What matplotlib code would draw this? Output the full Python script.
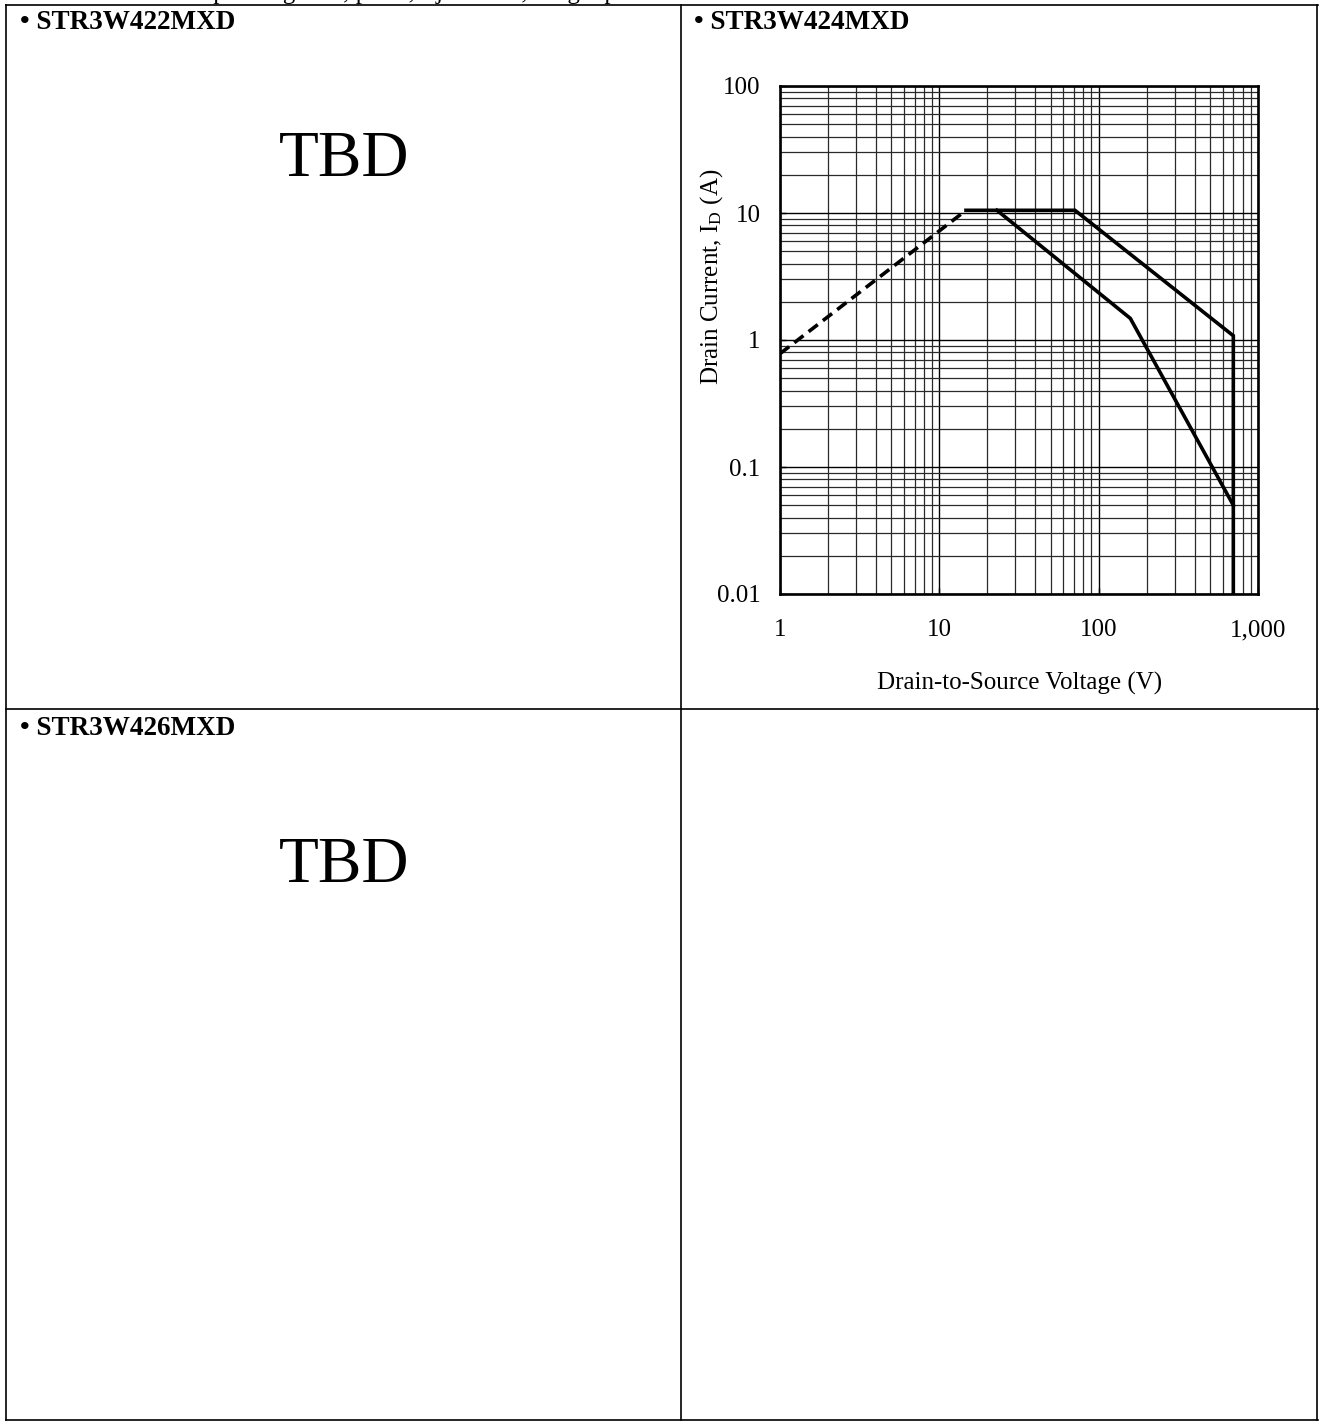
import matplotlib
matplotlib.use('Agg')
import matplotlib.pyplot as plt
from matplotlib.lines import Line2D
from matplotlib.ticker import FixedLocator, FixedFormatter, LogLocator, NullFormatter

plt.rcParams['font.family'] = ['Liberation Serif', 'DejaVu Serif']
plt.rcParams['mathtext.fontset'] = 'stix'

# SOA curves for STR3W424MXD
rds_v = [1, 14.7]              # R_DS(on) limited, dashed
rds_i = [0.78, 10.5]
pulse1_v = [14.7, 71, 700, 700]   # short pulse
pulse1_i = [10.5, 10.5, 1.08, 0.01]
pulse2_v = [23, 158, 700]      # longer pulse
pulse2_i = [10.5, 1.48, 0.05]

x_ticks = [1, 10, 100, 1000]
x_labels = ['1', '10', '100', '1,000']
y_ticks = [0.01, 0.1, 1, 10, 100]
y_labels = ['0.01', '0.1', '1', '10', '100']

panel_titles = ['• STR3W422MXD', '• STR3W424MXD', '• STR3W426MXD']

W, H = 1319, 1423
fig = plt.figure(figsize=(W / 100, H / 100), dpi=100)
fig.patch.set_facecolor('white')


def px(x, y):
    return x / W, 1 - y / H


# table lines
def hline(y, x0, x1):
    fig.add_artist(Line2D([x0 / W, x1 / W], [1 - y / H, 1 - y / H], color='black', lw=1.2))


def vline(x, y0, y1):
    fig.add_artist(Line2D([x / W, x / W], [1 - y0 / H, 1 - y1 / H], color='black', lw=1.2))


hline(5, 6, 1318)
hline(709, 6, 1318)
hline(1420, 6, 1318)
vline(6, 5, 1420)
vline(681, 5, 1420)
vline(1317, 5, 1420)

# line of text above the table, cut off by the page edge as in the source
fig.text(*px(150, -1), 'Safe operating area, pulse, Tj = 25°C, Single pulse',
         fontsize=18, va='baseline', ha='left')

# panel headers
fig.text(*px(20, 29), panel_titles[0], fontsize=19.5, fontweight='bold', va='baseline')
fig.text(*px(694, 29), panel_titles[1], fontsize=19.5, fontweight='bold', va='baseline')
fig.text(*px(20, 735), panel_titles[2], fontsize=19.5, fontweight='bold', va='baseline')

# TBD placeholders
fig.text(*px(344, 160), 'TBD', fontsize=47, ha='center', va='center')
fig.text(*px(344, 866), 'TBD', fontsize=47, ha='center', va='center')

# SOA chart
l, r, t, b = 780, 1258, 86, 594
ax = fig.add_axes([l / W, 1 - b / H, (r - l) / W, (b - t) / H])
ax.set_xscale('log')
ax.set_yscale('log')
ax.set_xlim(1, 1000)
ax.set_ylim(0.01, 100)

ax.xaxis.set_major_locator(FixedLocator(x_ticks))
ax.xaxis.set_major_formatter(FixedFormatter(x_labels))
ax.yaxis.set_major_locator(FixedLocator(y_ticks))
ax.yaxis.set_major_formatter(FixedFormatter(y_labels))
ax.xaxis.set_minor_locator(LogLocator(base=10, subs=range(2, 10)))
ax.yaxis.set_minor_locator(LogLocator(base=10, subs=range(2, 10)))
ax.xaxis.set_minor_formatter(NullFormatter())
ax.yaxis.set_minor_formatter(NullFormatter())

ax.grid(True, which='major', color='black', lw=1.0)
ax.grid(True, which='minor', color='#2a2a2a', lw=0.9)
ax.set_axisbelow(True)

ax.tick_params(which='major', direction='in', length=4, width=1, labelsize=18, pad=14)
ax.tick_params(which='minor', length=0)
ax.tick_params(axis='x', pad=18)

for s in ax.spines.values():
    s.set_linewidth(1.9)
    s.set_zorder(5)

ax.plot(rds_v, rds_i, color='black', lw=2.6, ls=(0, (3.2, 1.8)), zorder=4)
ax.plot(pulse1_v, pulse1_i, color='black', lw=2.6, zorder=4, solid_joinstyle='miter')
ax.plot(pulse2_v, pulse2_i, color='black', lw=2.6, zorder=4, solid_joinstyle='miter')

ax.set_xlabel('Drain-to-Source Voltage (V)', fontsize=18)
ax.set_ylabel(r'Drain Current, I$_\mathregular{D}$ (A)', fontsize=18)
ax.xaxis.set_label_coords((1020 - l) / (r - l), (b - 683) / (b - t))
ax.yaxis.set_label_coords((712 - l) / (r - l), (b - 277) / (b - t))
ax.xaxis.label.set_va('center')
ax.yaxis.label.set_va('center')

fig.savefig('out.png', dpi=100, facecolor='white')
